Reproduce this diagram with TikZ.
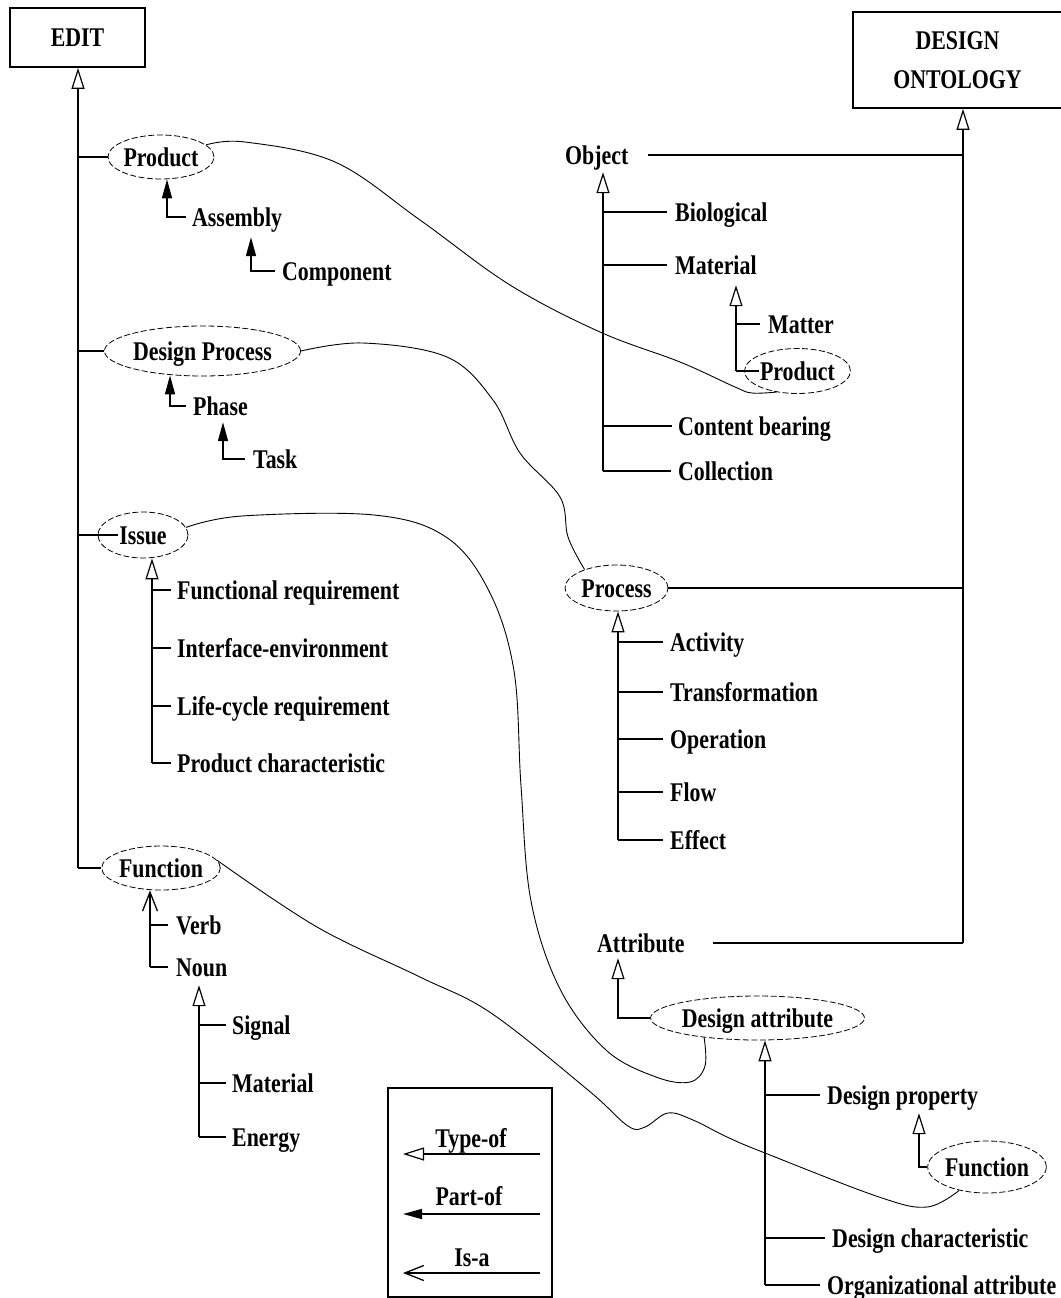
\documentclass[tikz,border=0pt]{standalone}
\usepackage{fontspec}
\setmainfont[FakeStretch=0.81]{Liberation Serif}
\usetikzlibrary{arrows.meta,shapes.geometric}

\begin{document}
\begin{tikzpicture}[x=1pt,y=-1pt,
  font=\bfseries\fontsize{27}{39}\selectfont,
  txt/.style={inner sep=0pt, text height=18pt, text depth=0pt},
  lbl/.style={txt, anchor=west},
  concept/.style={txt, ellipse, draw, dash pattern=on 6pt off 2.5pt, line width=0.8pt},
  topbox/.style={draw, line width=1.8pt, inner sep=0pt},
  tree/.style={line width=1.6pt},
  typeof/.style={tree, -{Triangle[open, length=21pt, width=13pt, line width=1.2pt]}},
  partof/.style={tree, -{Triangle[length=19pt, width=10pt]}},
  isa/.style={tree, -{Straight Barb[length=19pt, width=15pt, line width=1.3pt]}},
  link/.style={line width=0.9pt}]

\useasboundingbox (0,0) rectangle (1060,1298);

% ---------- EDIT hierarchy ----------
\node[topbox, minimum width=135pt, minimum height=59pt] (edit) at (77.5,37.5) {EDIT};
\node[concept, minimum width=102pt, minimum height=44pt] (prodE) at (161,157) {Product};
\node[lbl] (asm) at (192,217) {Assembly};
\node[lbl] (comp) at (282,271) {Component};
\node[concept, minimum width=161pt, minimum height=50pt] (dproc) at (202.5,351) {Design Process};
\node[lbl] (phase) at (193,406) {Phase};
\node[lbl] (task) at (253,459) {Task};
\node[concept, minimum width=90pt, minimum height=46pt] (issue) at (143,535) {Issue};
\node[lbl] (fr) at (177,590) {Functional requirement};
\node[lbl] (ie) at (177,648) {Interface-environment};
\node[lbl] (lc) at (177,706) {Life-cycle requirement};
\node[lbl] (pc) at (177,763) {Product characteristic};
\node[concept, minimum width=112pt, minimum height=44pt] (fnE) at (161,868) {Function};
\node[lbl] (verb) at (176,925) {Verb};
\node[lbl] (noun) at (176,967) {Noun};
\node[lbl] (sig) at (232,1025) {Signal};
\node[lbl] (mat) at (232,1083) {Material};
\node[lbl] (eng) at (232,1137) {Energy};

% ---------- legend ----------
\node[draw, line width=1.2pt, inner sep=0pt, minimum width=164pt, minimum height=209pt] (legend) at (470,1192.5) {};
\node[txt] (ltype) at (471,1138) {Type-of};
\node[txt] (lpart) at (469,1196) {Part-of};
\node[txt] (lisa) at (472,1257) {Is-a};
\coordinate (lt1) at (540,1154); \coordinate (lt2) at (403,1154);
\coordinate (lp1) at (540,1214); \coordinate (lp2) at (403,1214);
\coordinate (li1) at (540,1273); \coordinate (li2) at (403,1273);
\draw[typeof] (lt1) -- (lt2);
\draw[partof] (lp1) -- (lp2);
\draw[isa] (li1) -- (li2);

% ---------- DESIGN ONTOLOGY hierarchy ----------
\node[topbox, minimum width=209pt, minimum height=96pt, align=center] (dont) at (957.5,60) {DESIGN\\ONTOLOGY};
\node[lbl] (obj) at (565,155) {Object};
\node[lbl] (bio) at (675,212) {Biological};
\node[lbl] (matl) at (675,265) {Material};
\node[lbl] (matter) at (768,324) {Matter};
\node[concept, minimum width=101pt, minimum height=45pt] (prodO) at (797.5,371) {Product};
\node[lbl] (cb) at (678,426) {Content bearing};
\node[lbl] (coll) at (678,471) {Collection};
\node[concept, minimum width=103pt, minimum height=46pt] (proc) at (616.5,588) {Process};
\node[lbl] (act) at (670,642) {Activity};
\node[lbl] (trans) at (670,692) {Transformation};
\node[lbl] (oper) at (670,739) {Operation};
\node[lbl] (flow) at (670,792) {Flow};
\node[lbl] (eff) at (670,840) {Effect};
\node[lbl] (attr) at (597,943) {Attribute};
\node[concept, minimum width=191pt, minimum height=44pt] (da) at (757.5,1018) {Design attribute};
\node[lbl] (dprop) at (827,1095) {Design property};
\node[concept, minimum width=110pt, minimum height=52pt] (fnD) at (987,1167) {Function};
\node[lbl] (dchar) at (832,1238) {Design characteristic};
\node[lbl] (org) at (827,1285) {Organizational attribute};

% ---------- EDIT connectors ----------
\coordinate (estem) at (78,868);
\draw[typeof] (estem) -- (estem |- edit.south);
\draw[tree] (estem) -- (fnE.west);
\draw[tree] (estem |- prodE.west) -- (prodE.west);
\draw[tree] (estem |- dproc.west) -- (dproc.west);
\draw[tree] (estem |- issue.west) -- ([xshift=20pt]issue.west);

\coordinate (asmc) at (167,217);
\draw[partof] ([xshift=-6pt]asm.west) -- (asmc) -- (asmc |- prodE.south);
\coordinate (compc) at (251,271);
\draw[partof] ([xshift=-7pt]comp.west) -- (compc) -- ([yshift=-11pt]compc |- asm.south);
\coordinate (phc) at (170,406);
\draw[partof] ([xshift=-7pt]phase.west) -- (phc) -- ([yshift=1pt]phc |- dproc.south);
\coordinate (tkc) at (223,459);
\draw[partof] ([xshift=-8pt]task.west) -- (tkc) -- ([yshift=-7pt]tkc |- phase.south);

\coordinate (isc) at (152,763);
\draw[typeof] (isc) -- (isc |- issue.south);
\draw[tree] (isc) -- ([xshift=-6pt]pc.west);
\draw[tree] (isc |- fr.west) -- ([xshift=-6pt]fr.west);
\draw[tree] (isc |- ie.west) -- ([xshift=-6pt]ie.west);
\draw[tree] (isc |- lc.west) -- ([xshift=-6pt]lc.west);

\coordinate (fnc) at (150,967);
\draw[isa] (fnc) -- (fnc |- fnE.south);
\draw[tree] (fnc) -- ([xshift=-8pt]noun.west);
\draw[tree] (fnc |- verb.west) -- ([xshift=-8pt]verb.west);

\coordinate (nnc) at (199,1137);
\draw[typeof] (nnc) -- ([yshift=-9pt]nnc |- noun.south);
\draw[tree] (nnc) -- ([xshift=-6pt]eng.west);
\draw[tree] (nnc |- sig.west) -- ([xshift=-6pt]sig.west);
\draw[tree] (nnc |- mat.west) -- ([xshift=-6pt]mat.west);

% ---------- DESIGN ONTOLOGY connectors ----------
\coordinate (dstem) at (963,943);
\draw[typeof] (dstem) -- (dstem |- dont.south);
\draw[tree] (dstem |- obj.east) -- ([xshift=19pt]obj.east);
\draw[tree] (dstem |- proc.east) -- (proc.east);
\draw[tree] (dstem) -- ([xshift=28pt]attr.east);

\coordinate (obc) at (603,471);
\draw[typeof] (obc) -- ([yshift=-8pt]obc |- obj.south);
\draw[tree] (obc) -- ([xshift=-7pt]coll.west);
\draw[tree] (obc |- bio.west) -- ([xshift=-8pt]bio.west);
\draw[tree] (obc |- matl.west) -- ([xshift=-8pt]matl.west);
\draw[tree] (obc |- cb.west) -- ([xshift=-6pt]cb.west);

\coordinate (mtc) at (736,371);
\draw[typeof] (mtc) -- ([yshift=-11pt]mtc |- matl.south);
\draw[tree] (mtc |- matter.west) -- ([xshift=-8pt]matter.west);
\draw[tree] (mtc) -- ([xshift=15pt]prodO.west);

\coordinate (prc) at (618,840);
\draw[typeof] (prc) -- (prc |- proc.south);
\draw[tree] (prc) -- ([xshift=-7pt]eff.west);
\draw[tree] (prc |- act.west) -- ([xshift=-7pt]act.west);
\draw[tree] (prc |- trans.west) -- ([xshift=-7pt]trans.west);
\draw[tree] (prc |- oper.west) -- ([xshift=-7pt]oper.west);
\draw[tree] (prc |- flow.west) -- ([xshift=-7pt]flow.west);

\coordinate (atc) at (618,1018);
\draw[typeof] (da.west) -- (atc) -- ([yshift=-6pt]atc |- attr.south);

\coordinate (dac) at (765,1285);
\draw[typeof] (dac) -- (dac |- da.south);
\draw[tree] (dac) -- ([xshift=-7pt]org.west);
\draw[tree] (dac |- dprop.west) -- ([xshift=-7pt]dprop.west);
\draw[tree] (dac |- dchar.west) -- ([xshift=-7pt]dchar.west);

\coordinate (dpc) at (919,1167);
\draw[typeof] (fnD.west) -- (dpc) -- ([yshift=-9pt]dpc |- dprop.south);

% ---------- cross-links between the two ontologies ----------
\draw[link] plot[smooth, tension=0.6] coordinates {(prodE.15) (245,142) (335,162) (420,220) (510,285) (600,332) (680,362) (735,387) (752,393) (prodO.225)};
\draw[link] plot[smooth, tension=0.6] coordinates {(dproc.east) (363,343) (447,357) (493,400) (520,453) (560,497) (568,537) (proc.150)};
\draw[link] plot[smooth, tension=0.6] coordinates {(issue.10) (242,516) (374,515) (446,537) (489,591) (514,671) (521,786) (531,901) (560,989) (606,1050) (656,1077) (690,1082) (705,1066) (da.200)};
\draw[link] plot[smooth, tension=0.6] coordinates {(fnE.8) (317,927) (420,977) (491,1013) (588,1090) (628,1126) (645,1127) (668,1113) (693,1120) (727,1137) (765,1153) (879,1197) (927,1207) (fnD.220)};

\end{tikzpicture}
\end{document}
